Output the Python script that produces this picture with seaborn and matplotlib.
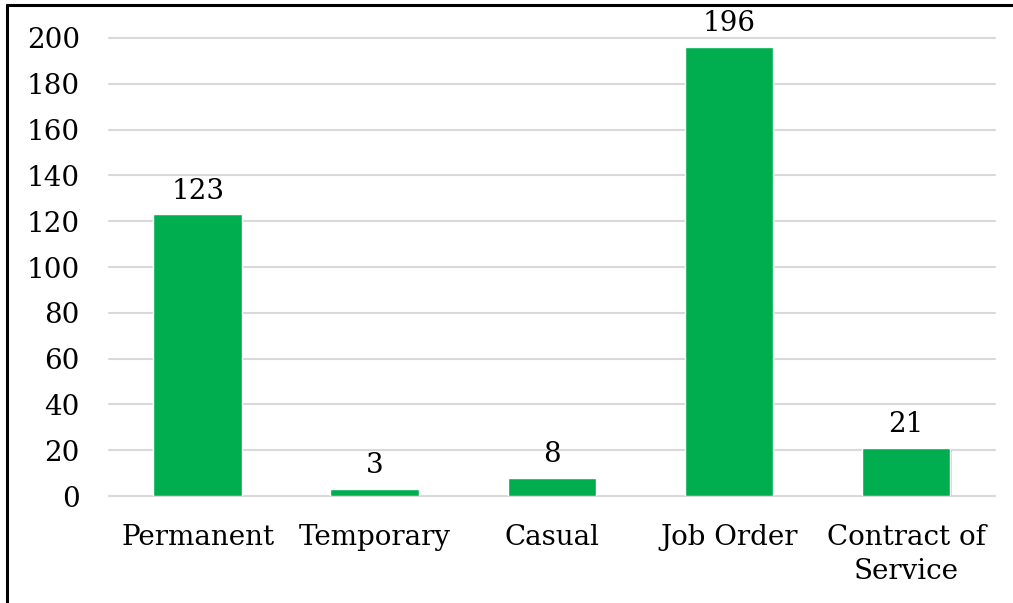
import matplotlib
matplotlib.use("Agg")
import matplotlib.pyplot as plt
import matplotlib.patheffects as pe
import pandas as pd
import seaborn as sns

CATEGORIES = ["Permanent", "Temporary", "Casual", "Job Order", "Contract of\nService"]
COUNTS = [123, 3, 8, 196, 21]
Y_TICKS = [0, 20, 40, 60, 80, 100, 120, 140, 160, 180, 200]

BAR_COLOR = "#00AE50"
GRID_COLOR = "#D9D9D9"


def main():
    sns.set_theme(style="white")
    plt.rcParams["font.family"] = ["DejaVu Serif"]

    df = pd.DataFrame({"category": CATEGORIES, "count": COUNTS})

    fig = plt.figure(figsize=(10.13, 6.03), dpi=100)
    ax = fig.add_axes([0.1076, 0.1774, 0.8744, 0.7596])

    sns.barplot(data=df, x="category", y="count", color=BAR_COLOR,
                saturation=1, width=0.5, ax=ax, zorder=3)

    for bar in ax.patches:
        bar.set_path_effects([
            pe.SimplePatchShadow(offset=(0.8, -1.2), shadow_rgbFace="#777777", alpha=0.3),
            pe.Normal(),
        ])

    for bar, value in zip(ax.patches, COUNTS):
        ax.annotate(str(value), (bar.get_x() + bar.get_width() / 2, bar.get_height()),
                    xytext=(0, 7), textcoords="offset points",
                    ha="center", va="bottom", fontsize=20, color="black")

    ax.set_ylim(0, 200)
    ax.set_yticks(Y_TICKS)
    ax.set_xlim(-0.5, len(CATEGORIES) - 0.5)
    ax.yaxis.grid(True, color=GRID_COLOR, linewidth=1.5, zorder=0)
    for line in ax.get_ygridlines():
        line.set_clip_on(False)
    ax.set_axisbelow(True)
    for spine in ax.spines.values():
        spine.set_visible(False)
    ax.tick_params(axis="y", labelsize=20, length=0, pad=21, colors="black")
    ax.tick_params(axis="x", labelsize=20, length=0, pad=20, colors="black")
    for label in ax.get_yticklabels():
        label.set_horizontalalignment("right")
    for label in ax.get_xticklabels():
        label.set_linespacing(1.35)
    ax.set_xlabel("")
    ax.set_ylabel("")

    # outer frame (visible on left and top in the reference)
    fig.add_artist(plt.Line2D([0.0065, 0.0065], [0, 0.9915], transform=fig.transFigure,
                              color="black", linewidth=2.2))
    fig.add_artist(plt.Line2D([0.0065, 1.0], [0.9915, 0.9915], transform=fig.transFigure,
                              color="black", linewidth=2.2))

    fig.savefig("out.png", dpi=100)
    plt.close(fig)


if __name__ == "__main__":
    main()
